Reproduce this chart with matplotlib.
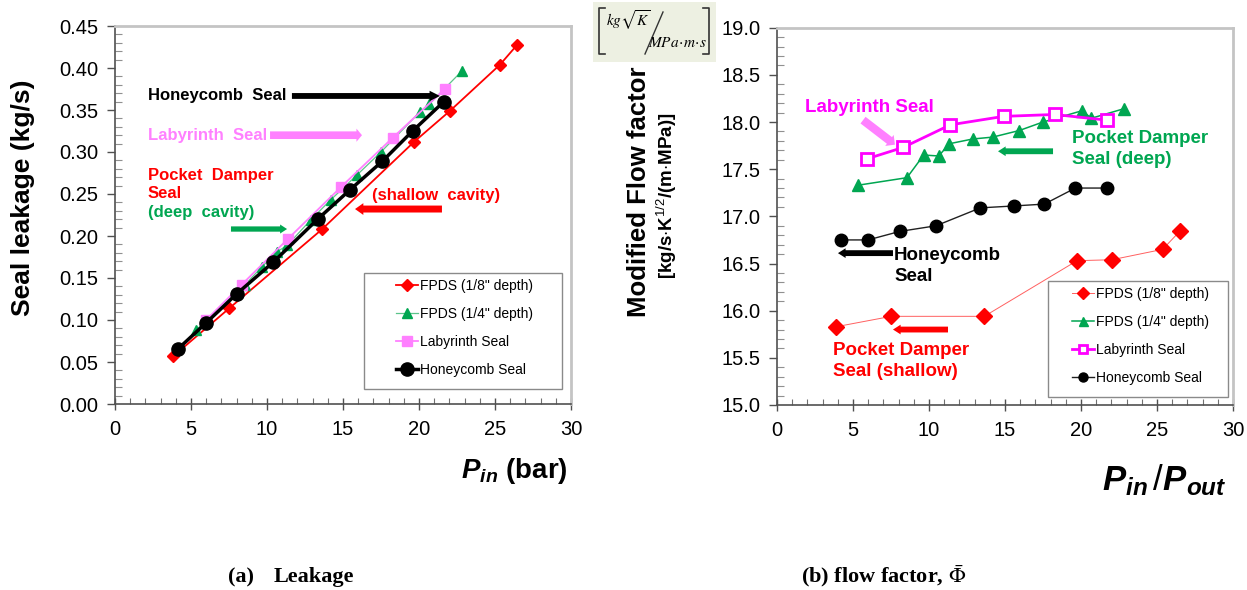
import matplotlib
matplotlib.use("Agg")
import matplotlib.pyplot as plt
from matplotlib.ticker import MultipleLocator, FormatStrFormatter
from matplotlib.patches import Rectangle
from matplotlib.lines import Line2D

plt.rcParams['font.family'] = ['Liberation Sans', 'DejaVu Sans']
plt.rcParams['mathtext.fontset'] = 'custom'
plt.rcParams['mathtext.rm'] = 'Liberation Sans'
plt.rcParams['mathtext.it'] = 'Liberation Sans:italic'
plt.rcParams['mathtext.bf'] = 'Liberation Sans:bold'
plt.rcParams['mathtext.bfit'] = 'Liberation Sans:bold:italic'

# ---------------- data ----------------
# (a) leakage vs inlet pressure [bar]
pin_fpds18 = [3.84, 7.52, 13.62, 19.67, 22.04, 25.33, 26.43]
leak_fpds18 = [0.057, 0.114, 0.208, 0.312, 0.349, 0.404, 0.427]

pin_fpds14 = [5.33, 8.55, 9.65, 10.64, 11.34, 12.87, 14.19, 15.94, 17.50, 20.07, 20.68, 22.80]
leak_fpds14 = [0.088, 0.142, 0.163, 0.181, 0.189, 0.219, 0.243, 0.273, 0.300, 0.348, 0.357, 0.396]

pin_lab = [5.99, 8.33, 11.40, 14.85, 18.27, 21.71]
leak_lab = [0.100, 0.142, 0.197, 0.258, 0.317, 0.375]

pin_hc = [4.17, 5.96, 8.00, 10.42, 13.33, 15.46, 17.59, 19.58, 21.64]
leak_hc = [0.066, 0.096, 0.131, 0.169, 0.220, 0.255, 0.289, 0.325, 0.360]

# (b) modified flow factor vs pressure ratio
pr_fpds18 = [3.90, 7.52, 13.64, 19.74, 22.04, 25.37, 26.49]
phi_fpds18 = [15.83, 15.94, 15.94, 16.53, 16.54, 16.65, 16.84]

pr_fpds14 = [5.33, 8.55, 9.65, 10.64, 11.34, 12.87, 14.19, 15.94, 17.50, 20.07, 20.68, 22.80]
phi_fpds14 = [17.33, 17.41, 17.65, 17.64, 17.77, 17.82, 17.84, 17.91, 18.00, 18.12, 18.04, 18.14]

pr_lab = [5.92, 8.29, 11.40, 14.91, 18.27, 21.71]
phi_lab = [17.61, 17.73, 17.97, 18.06, 18.08, 18.02]

pr_hc = [4.23, 5.99, 8.07, 10.46, 13.38, 15.57, 17.59, 19.63, 21.71]
phi_hc = [16.75, 16.75, 16.84, 16.90, 17.09, 17.11, 17.13, 17.30, 17.30]

labels = ['FPDS (1/8" depth)', 'FPDS (1/4" depth)', 'Labyrinth Seal', 'Honeycomb Seal']

RED = '#FF0000'
GREEN = '#00A651'
LGREEN = '#5CC48A'
PINK = '#FF80FF'
MAGENTA = '#FF00FF'

# ---------------- figure layout ----------------
W, H = 1247, 590
fig = plt.figure(figsize=(W / 100, H / 100), dpi=100)


def fx(px):
    return px / W


def fy(py):
    return 1 - py / H


ax1 = fig.add_axes([fx(115), fy(404), fx(571) - fx(115), fy(26) - fy(404)])
ax2 = fig.add_axes([fx(777), fy(405), fx(1233) - fx(777), fy(27.7) - fy(405)])


def style_axes(ax, labelsize):
    for s in ('left', 'bottom'):
        ax.spines[s].set_color('#505050')
        ax.spines[s].set_linewidth(1.2)
    for s in ('top', 'right'):
        ax.spines[s].set_color('#c4c4c4')
        ax.spines[s].set_linewidth(2.0)
    ax.xaxis.set_major_locator(MultipleLocator(5))
    ax.xaxis.set_minor_locator(MultipleLocator(1))
    ax.tick_params(axis='x', which='major', direction='inout', length=9, width=1.0,
                   color='#505050', labelsize=labelsize, pad=7)
    ax.tick_params(axis='x', which='minor', direction='in', length=4, width=0.8, color='#707070')
    ax.tick_params(axis='y', which='major', direction='out', length=6, width=1.0,
                   color='#505050', labelsize=labelsize, pad=6)
    ax.tick_params(axis='y', which='minor', direction='in', length=5, width=0.8, color='#909090')
    ax.set_xlim(0, 30)


def arrow(ax, tail, head, color, tw, hw, hl, scale=10):
    ax.annotate('', xy=head, xytext=tail,
                arrowprops=dict(arrowstyle=f'simple,head_length={hl},head_width={hw},tail_width={tw}',
                                color=color, shrinkA=0, shrinkB=0, mutation_scale=scale, lw=0))


def legend_box(ax, x0, y0, x1, y1, ax_anchor, markerscale=1.0):
    ax.add_patch(Rectangle((fx(x0), fy(y1)), fx(x1) - fx(x0), fy(y0) - fy(y1),
                           transform=fig.transFigure, facecolor='white', edgecolor='#8a8a8a',
                           lw=1.0, zorder=4, clip_on=False))
    leg = ax.legend(loc='upper left', bbox_to_anchor=(fx(ax_anchor[0]), fy(ax_anchor[1])),
                    bbox_transform=fig.transFigure, frameon=False, borderpad=0,
                    borderaxespad=0, handlelength=1.6, handletextpad=0.15,
                    labelspacing=1.0, fontsize=10, markerscale=markerscale)
    leg.set_zorder(5)
    return leg


# ---------------- (a) leakage ----------------
style_axes(ax1, 14.5)
ax1.set_ylim(0, 0.45)
ax1.yaxis.set_major_locator(MultipleLocator(0.05))
ax1.yaxis.set_minor_locator(MultipleLocator(0.01))
ax1.yaxis.set_major_formatter(FormatStrFormatter('%.2f'))

ax1.plot(pin_fpds18, leak_fpds18, color=RED, lw=1.3, marker='D', ms=6, label=labels[0], zorder=3)
ax1.plot(pin_fpds14, leak_fpds14, color=LGREEN, lw=0.9, marker='^', ms=7,
         mfc=GREEN, mec=GREEN, label=labels[1], zorder=3)
ax1.plot(pin_lab, leak_lab, color=PINK, lw=1.3, marker='s', ms=7, label=labels[2], zorder=3)
ax1.plot(pin_hc, leak_hc, color='black', lw=2.5, marker='o', ms=9.5, label=labels[3], zorder=3)

legend_box(ax1, 364, 273, 562, 389, (396, 279))

ann = dict(fontsize=12, fontweight='bold', va='center')
ax1.text(2.17, 0.3667, 'Honeycomb  Seal', color='black', **ann)
arrow(ax1, (11.64, 0.3667), (21.38, 0.3667), 'black', 0.42, 0.75, 0.75)
ax1.text(2.17, 0.320, 'Labyrinth  Seal', color=PINK, **ann)
arrow(ax1, (10.2, 0.320), (16.25, 0.320), PINK, 0.55, 0.95, 0.4)
ax1.text(2.17, 0.2726, 'Pocket  Damper', color=RED, **ann)
ax1.text(2.17, 0.250, 'Seal', color=RED, **ann)
ax1.text(2.17, 0.2274, '(deep  cavity)', color=GREEN, **ann)
arrow(ax1, (7.63, 0.2083), (11.32, 0.2083), GREEN, 0.38, 0.65, 0.5)
ax1.text(16.9, 0.2488, '(shallow  cavity)', color=RED, **ann)
arrow(ax1, (21.51, 0.2321), (15.79, 0.2321), RED, 0.5, 0.85, 0.6)

fig.text(fx(23), fy(198), 'Seal leakage (kg/s)', rotation=90, ha='center', va='center',
         fontsize=19, fontweight='bold')
fig.text(fx(568), fy(478), r'$\mathbfit{P}_{\mathbfit{in}}$ (bar)', ha='right', va='baseline',
         fontsize=20, fontweight='bold')

# ---------------- (b) flow factor ----------------
style_axes(ax2, 14.5)
ax2.set_ylim(15, 19)
ax2.yaxis.set_major_locator(MultipleLocator(0.5))
ax2.yaxis.set_minor_locator(MultipleLocator(0.1))
ax2.yaxis.set_major_formatter(FormatStrFormatter('%.1f'))

ax2.plot(pr_fpds18, phi_fpds18, color='#FF6060', lw=0.7, marker='D', ms=8,
         mfc=RED, mec=RED, label=labels[0], zorder=3)
ax2.plot(pr_fpds14, phi_fpds14, color=GREEN, lw=1.1, marker='^', ms=9, label=labels[1], zorder=3)
ax2.plot(pr_lab, phi_lab, color=MAGENTA, lw=2.0, marker='s', ms=8.5, mfc='white',
         mec=MAGENTA, mew=2.0, label=labels[2], zorder=3)
ax2.plot(pr_hc, phi_hc, color='#202020', lw=1.0, marker='o', ms=9, mfc='black',
         mec='black', label=labels[3], zorder=3)

legend_box(ax2, 1048, 281, 1228, 397, (1072, 287), markerscale=0.72)

ann2 = dict(fontsize=13.5, fontweight='bold', va='center')
ax2.text(1.84, 18.15, 'Labyrinth Seal', color=MAGENTA, **ann2)
arrow(ax2, (5.66, 18.02), (7.76, 17.76), PINK, 0.6, 1.0, 0.5)
ax2.text(19.41, 17.83, 'Pocket Damper', color=GREEN, **ann2)
ax2.text(19.41, 17.60, 'Seal (deep)', color=GREEN, **ann2)
arrow(ax2, (18.16, 17.69), (14.54, 17.69), GREEN, 0.42, 0.7, 0.55)
arrow(ax2, (7.63, 16.61), (4.01, 16.61), 'black', 0.42, 0.7, 0.55)
ax2.text(7.70, 16.58, 'Honeycomb', color='black', **ann2)
ax2.text(7.70, 16.36, 'Seal', color='black', **ann2)
arrow(ax2, (11.25, 15.80), (7.63, 15.80), RED, 0.42, 0.7, 0.55)
ax2.text(3.68, 15.58, 'Pocket Damper', color=RED, **ann2)
ax2.text(3.68, 15.35, 'Seal (shallow)', color=RED, **ann2)

fig.text(fx(639), fy(192), 'Modified Flow factor', rotation=90, ha='center', va='center',
         fontsize=18.5, fontweight='bold')
fig.text(fx(667), fy(196), r'[kg/s$\cdot$K$^{1/2}$/(m$\cdot$MPa)]', rotation=90,
         ha='center', va='center', fontsize=13.5, fontweight='bold')
fig.text(fx(1227), fy(490), r'$\mathbfit{P}_{\mathbfit{in}}\,/\mathbfit{P}_{\mathbfit{out}}$',
         ha='right', va='baseline', fontsize=25)

# unit box above the flow-factor axis
fig.add_artist(Rectangle((fx(593), fy(62)), fx(716) - fx(593), fy(2) - fy(62),
                         transform=fig.transFigure, facecolor='#EDF0E2', edgecolor='none'))
for bx, sgn in ((599, 1), (709, -1)):
    fig.add_artist(Line2D([fx(bx + sgn * 6), fx(bx), fx(bx), fx(bx + sgn * 6)],
                          [fy(8), fy(8), fy(54), fy(54)], transform=fig.transFigure,
                          color='#333333', lw=1.2))
fig.add_artist(Line2D([fx(645), fx(663)], [fy(54), fy(12)], transform=fig.transFigure,
                      color='#333333', lw=1.0))
fig.text(fx(606), fy(20), r'$kg\sqrt{K}$', ha='left', va='center', fontsize=11,
         math_fontfamily='stix')
fig.text(fx(648), fy(43), r'$MPa\!\cdot\! m\!\cdot\! s$', ha='left', va='center', fontsize=11,
         math_fontfamily='stix')

# captions
cap = dict(family='Liberation Serif', fontweight='bold', fontsize=16, va='baseline')
fig.text(fx(228), fy(582), '(a)', **cap)
fig.text(fx(274), fy(582), 'Leakage', **cap)
fig.text(fx(801), fy(582), r'(b) flow factor, $\bar{\Phi}$', math_fontfamily='stix', **cap)

fig.savefig('out.png', dpi=100, facecolor='white')
